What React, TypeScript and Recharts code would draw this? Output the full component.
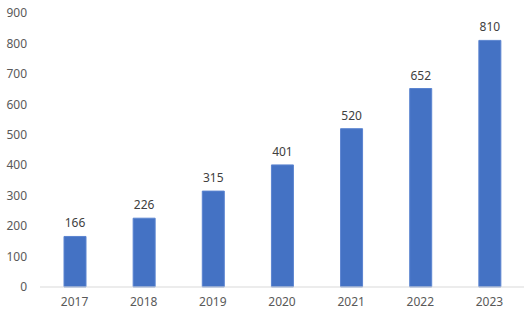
import { BarChart, Bar, XAxis, YAxis, LabelList } from 'recharts';

const years = ['2017', '2018', '2019', '2020', '2021', '2022', '2023'];
const values = [166, 226, 315, 401, 520, 652, 810];
const yTicks = [0, 100, 200, 300, 400, 500, 600, 700, 800, 900];

const data = years.map((year, i) => ({ year, value: values[i] }));

const font = '"Noto Sans", "Open Sans", sans-serif';

export default function App() {
  return (
    <div style={{ position: 'absolute', left: 0, top: 0, width: 527, height: 321, background: '#fff' }}>
      <BarChart
        width={527}
        height={321}
        data={data}
        margin={{ top: 13, right: 3, left: 0, bottom: 0 }}
        barSize={22}
      >
        <XAxis
          dataKey="year"
          axisLine={{ stroke: '#D9D9D9' }}
          tickLine={false}
          tickMargin={4}
          height={34}
          tick={{ fill: '#595959', fontSize: 12, fontFamily: font }}
        />
        <YAxis
          width={40}
          domain={[0, 900]}
          ticks={yTicks}
          axisLine={false}
          tickLine={false}
          tickMargin={7}
          interval={0}
          tick={{ fill: '#595959', fontSize: 12, fontFamily: font }}
        />
        <Bar dataKey="value" fill="#4472C4" stroke="#5B84D0" strokeWidth={1} isAnimationActive={false}>
          <LabelList
            dataKey="value"
            position="top"
            offset={9}
            fill="#404040"
            fontSize={12}
            fontFamily={font}
          />
        </Bar>
      </BarChart>
    </div>
  );
}
